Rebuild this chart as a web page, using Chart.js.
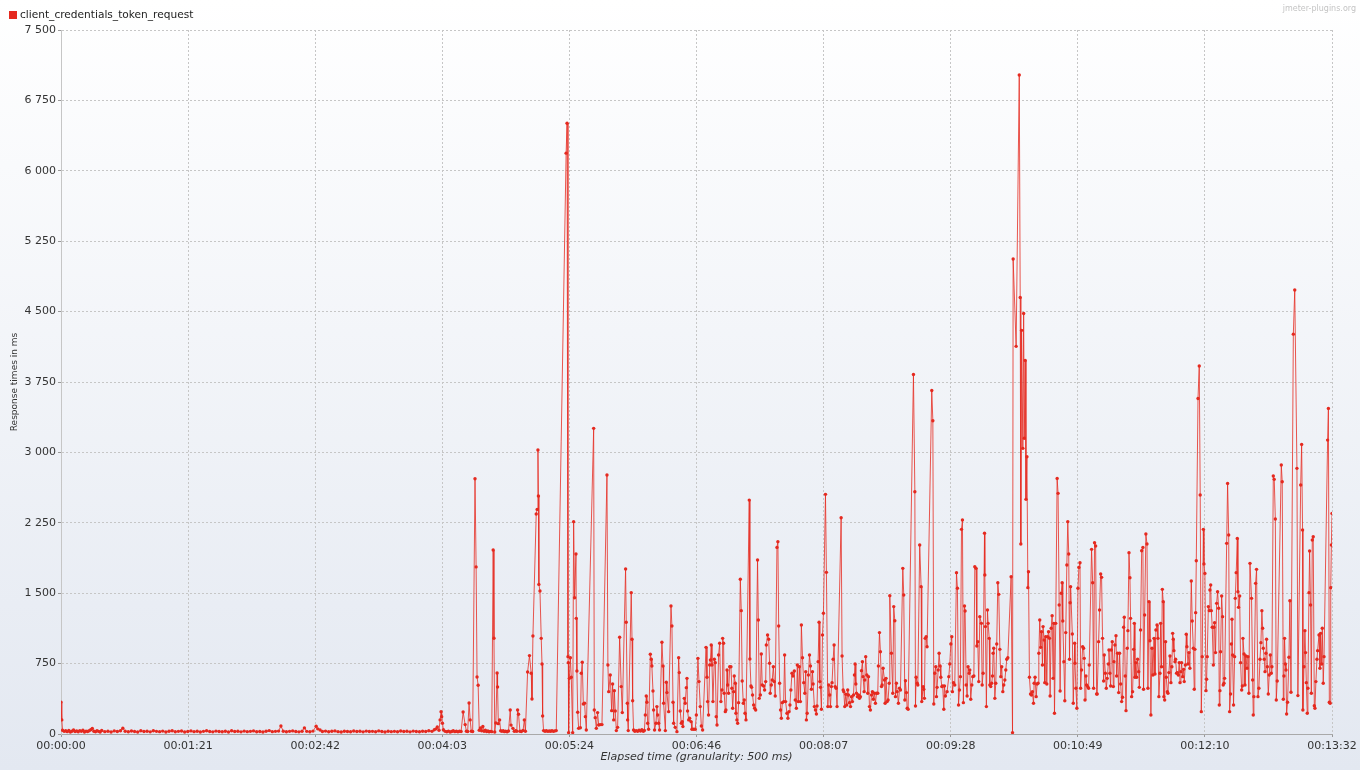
<!DOCTYPE html>
<html><head><meta charset="utf-8">
<script src="https://cdn.jsdelivr.net/npm/chart.js@4.4.1/dist/chart.umd.min.js"></script>
<style>html,body{margin:0;padding:0;background:#fff;overflow:hidden}#wrap{width:1360px;height:770px;position:relative}</style>
</head><body><div id="wrap"><canvas id="c" width="1360" height="770"></canvas></div>
<script>
const seriesName = "client_credentials_token_request";
const watermark = "jmeter-plugins.org";
const yTitle = "Response times in ms";
const xTitle = "Elapsed time (granularity: 500 ms)";
const xTickSeconds = [0, 81.2, 162.4, 243.6, 324.8, 406, 487.2, 568.4, 649.6, 730.8, 812];
const xTickLabels = ["00:00:00","00:01:21","00:02:42","00:04:03","00:05:24","00:06:46","00:08:07","00:09:28","00:10:49","00:12:10","00:13:32"];
const yMax = 7500, yStep = 750;

// [elapsed seconds, response time ms]
const warmup = [[0,340],[0.5,150],[1,40],[2,28],[3,35],[4,25],[5,38],[6,22],[7,30],[8,42],[9,26],[10,33],[11,24],[12,36],[13,28],[14,40],[15,22],[16,31],[17,27],[18,35],[19,45],[20,58],[21,30],[22,24],[23,34],[24,28],[25,22],[26,37],[28,25],[30,30],[32,21],[34,33],[36,27],[38,35],[39.5,62],[41,30],[43,24],[45,32],[47,27],[49,22],[51,35],[53,26],[55,30],[57,23],[59,34],[61,28],[63,25],[65,31],[67,22],[69,29],[71,35],[73,24],[75,28],[77,32],[79,21],[81,27],[83,33],[85,25],[87,30],[89,22],[91,28],[93,34],[95,26],[97,23],[99,31],[101,27],[103,24],[105,30],[107,22],[109,35],[111,26],[113,29],[115,23],[117,31],[119,25],[121,28],[123,33],[125,24],[127,27],[129,22],[131,30],[133,36],[135,25],[137,28],[139,31],[140.5,85],[142,30],[144,24],[146,28],[148,33],[150,26],[152,23],[154,30],[155.5,65],[157,28],[159,24],[161,31],[163,82],[164,55],[165.5,42],[167,27],[169,31],[171,24],[173,29],[175,33],[177,25],[179,22],[181,30],[183,27],[185,24],[187,32],[189,26],[191,29],[193,23],[195,31],[197,26],[199,28],[201,24],[203,33],[205,27],[207,22],[209,30],[211,25],[213,28],[215,24],[217,32],[219,26],[221,29],[223,23],[225,31],[227,27],[229,24],[231,30],[233,26],[235,35],[237,28],[238.5,45],[239.6,55],[240.4,75],[241.5,40],[242.2,150],[242.8,238],[243.2,185],[243.7,114],[244.3,45]];
const ramp = [[245.4,28],[246.5,24],[247.5,31],[248.6,22],[249.6,27],[250.6,34],[251.6,25],[252.6,29],[253.6,23],[254.6,30],[255.6,26],[256.9,234],[258.2,100],[259,30],[259.8,26],[260.7,330],[261.4,150],[262.1,30],[263,26],[264.5,2720],[265.2,1780],[265.8,607],[266.5,520],[267.2,40],[268,64],[268.7,35],[269.5,80],[270.3,28],[271.1,40],[271.9,26],[272.7,33],[273.5,24],[274.3,28],[275.2,25],[276.1,1960],[276.6,1020],[277.1,22],[277.8,117],[278.6,650],[278.9,500],[279.4,110],[280.2,150],[280.9,35],[281.7,28],[282.5,36],[283.3,25],[284.1,30],[285,24],[285.9,32],[287,255],[287.5,95],[288.7,60],[289.6,28],[290.4,35],[291.2,30],[291.7,255],[292.3,210],[293.2,30],[294.1,26],[295.2,38],[296,150],[296.7,30],[298.1,660],[299.3,835]];
const min05 = [[300.4,647],[300.9,373],[301.5,1044],[303.6,2343],[304.2,2393],[304.7,3025],[305,2535],[305.3,1594],[306,1523],[306.8,1019],[307.3,746],[307.7,192],[308.3,36],[309.2,30],[310.1,34],[311,28],[311.9,32],[312.8,30],[313.7,35],[314.6,28],[315.5,33],[316.4,36],[322.7,6188],[323.3,6507],[323.9,824],[324.1,760],[324.3,15],[324.8,593],[325.4,813],[326,604],[326.9,15],[327.5,2262],[328.1,1452],[329,1917],[329.2,1232],[329.6,671],[330.1,231],[330.7,60],[331.8,67],[332.4,647],[333,764],[333.7,320],[334.5,327],[335,185],[335.6,43],[340.3,3256],[340.7,256],[341.3,174],[342,60],[342.8,228],[343.5,96],[344.5,100],[345.6,100],[348.8,2760],[349.4,735],[349.9,451],[350.9,629],[351.8,249],[352.4,533],[353.1,150],[353.5,462],[354.1,245],[354.8,36],[355.6,71],[356.9,1030]];
const min06 = [[357.9,505],[358.6,228],[360.7,1758],[361.1,1190],[361.8,327],[362,150],[362.4,36],[364.3,1506],[364.8,1009],[365.2,355],[365.8,43],[366.6,30],[367.5,36],[368.4,28],[369.3,40],[370.2,32],[371.1,45],[372,30],[372.7,38],[373.3,203],[373.9,405],[374.3,338],[374.8,114],[375.4,50],[376.5,849],[377.1,796],[377.5,725],[378.2,458],[378.6,256],[379.2,43],[380.1,114],[380.7,292],[381.2,203],[381.8,114],[382.4,43],[383.9,977],[384.6,725],[385,327],[386.1,36],[386.7,551],[387.1,441],[388.2,238],[389.7,1364],[390.3,1151],[391,338],[391.4,114],[392.4,71],[393.5,25],[394.6,813],[395,654],[395.6,245],[396.3,114],[396.9,132],[397.3,79],[398.2,380],[398.8,327],[399.5,494],[399.9,593],[400.3,245],[401,150],[401.6,167],[402.5,132],[403.1,50],[404.2,50],[405.2,50],[405.9,203],[406.9,806],[407.6,558],[408.4,292],[409.1,86],[409.9,43],[412.1,923],[412.7,604],[413.1,345],[413.7,203],[414.4,735]];
const min07 = [[414.9,788],[415.4,948],[415.9,735],[416.5,345],[417.4,796],[418,760],[418.6,185],[419.1,96],[420.1,842],[420.8,966],[421.6,345],[422.3,469],[422.7,1019],[423.3,966],[423.7,434],[424.4,238],[424.8,256],[425.5,682],[425.9,522],[426.5,434],[427.2,717],[428,717],[428.6,487],[429.1,274],[429.7,451],[430.1,618],[430.8,540],[431.2,221],[431.8,150],[432.3,114],[432.9,334],[434,1648],[434.6,1314],[435.2,565],[435.9,327],[436.5,363],[437,221],[437.6,150],[439.7,2492],[440.1,799],[440.8,512],[441.2,497],[441.8,416],[442.5,309],[443.1,274],[443.8,256],[445,1854],[445.5,1215],[446.1,380],[446.8,416],[447.4,852],[448,522],[448.9,512],[449.5,469],[450.2,558],[450.6,948],[451.4,1055],[452.1,1009],[452.7,753],[453.1,434],[453.8,522],[454.4,575],[455.1,717],[455.7,558],[456.3,405],[457.4,1988],[458,2049],[458.5,1151],[459.1,540],[459.7,256],[460.2,167],[460.8,334],[461.7,345],[462.3,842],[462.9,345],[463.8,221],[464.4,167],[465.1,238],[465.7,309],[466.3,469],[467,647],[467.6,618],[468.5,671],[469.1,363],[469.8,274],[470.4,735],[471,345],[471.7,717]];
const min08 = [[472.4,345],[473,1161],[473.7,813],[474.5,547],[475.2,434],[475.8,664],[476.2,150],[476.7,221],[477.5,629],[478.2,842],[478.8,725],[479.4,476],[480.1,664],[480.5,533],[481.3,292],[482,256],[482.6,213],[483,299],[483.7,771],[484.3,1190],[484.8,558],[485.2,497],[485.8,263],[486.5,1055],[487.1,1286],[488.4,2553],[489,1722],[489.9,292],[490.5,522],[491.1,416],[491.6,292],[492.2,505],[492.6,547],[493.3,796],[493.9,948],[494.6,505],[495.2,487],[495.8,292],[498.4,2304],[499,831],[499.7,469],[500.1,451],[500.7,292],[501.4,423],[502,309],[502.6,469],[503.1,416],[503.7,334],[504.4,292],[505,398],[505.6,345],[506.3,416],[506.9,629],[507.3,746],[507.8,533],[508.2,434],[508.8,398],[509.5,416],[510.1,380],[510.7,398],[511.4,675],[512,771],[512.4,611],[513.1,451],[513.5,575],[514.1,824],[514.8,629],[515.4,434],[515.9,611],[516.5,292],[517.1,256],[517.8,416],[518.4,451],[519,370],[519.7,434],[520.3,327],[521,434],[521.8,434],[522.2,725],[522.9,1080],[523.5,877],[524.2,505],[524.6,522],[525.2,700],[526.1,575],[526.5,327],[527.1,593],[527.8,345],[528.4,363],[529.1,540],[529.5,1474]];
const min09 = [[530.5,860],[531.4,434],[532,1357],[532.7,1207],[533.1,398],[533.7,540],[534.2,451],[535,327],[535.7,487],[536.3,469],[537.8,1765],[538.4,1481],[539.1,363],[539.5,568],[540.1,441],[540.6,274],[541.2,263],[544.6,3830],[545.5,2581],[545.9,299],[546.3,604],[547,540],[547.4,522],[548.6,2013],[549.5,1570],[549.9,345],[550.8,505],[551.2,476],[551.6,380],[552.1,1019],[552.7,1037],[553.3,930],[556.3,3660],[557,3337],[557.6,320],[558.2,647],[558.9,717],[559.3,398],[559.7,497],[560.4,682],[561,860],[561.6,725],[562.1,604],[562.7,505],[563.3,512],[564,263],[564.4,512],[565,405],[566.1,451],[567.2,611],[567.8,746],[568.5,959],[569.1,1037],[569.5,451],[570.2,547],[571,522],[572.1,1719],[572.7,1552],[573.4,309],[574,469],[574.6,611],[575.3,2180],[575.9,2280],[576.5,334],[577.2,1364],[577.6,1310],[578.3,522],[578.9,405],[579.5,717],[580.2,647],[580.6,682],[581.2,370],[581.9,522],[582.5,611],[583.2,618],[583.8,1783],[584.6,1765],[585.1,938],[585.7,984],[586.3,558],[587,1250]];
const min10 = [[588,1179],[588.5,522],[589.1,647],[590,2138],[590.2,1694],[590.6,1144],[591.2,292],[591.9,1321],[592.3,1179],[593,1019],[593.4,522],[594,505],[594.6,540],[595.1,618],[595.5,860],[595.9,913],[596.6,380],[597.2,540],[597.8,959],[598.5,1612],[599.1,1488],[599.8,902],[600.4,611],[601,717],[601.7,451],[602.3,522],[603,575],[603.6,682],[604.2,796],[604.9,813],[607,1676],[607.9,15],[608.3,5060],[610.2,4130],[612.2,7020],[612.8,4650],[613.2,2024],[613.7,4300],[614.5,3043],[615,4480],[615.4,3150],[616,3980],[616.5,2500],[617.1,2954],[617.7,1559],[618.1,1729],[618.7,605],[619.4,426],[620,416],[620.6,451],[621.3,327],[621.7,540],[622.3,604],[623,398],[623.6,533],[624.2,540],[624.7,860],[625.3,1215],[625.9,923],[626.4,1090],[627,735],[627.4,1144],[628.1,1001],[628.5,547],[629.1,1037],[629.8,533],[630.4,1037],[630.9,1090],[631.5,1019],[631.9,405],[632.6,1126],[633.2,1261],[633.8,593],[634.3,1179],[634.7,221],[635.5,1179],[636.4,2723],[637,2564],[637.7,1374],[638.3,458],[639,1499],[639.6,1612],[640,1204],[640.7,771],[641.3,355],[641.9,1080],[642.6,1800],[643.2,2262],[643.8,1917],[644.3,796],[644.7,1399]];
const min11 = [[645,1570],[646.1,1065],[646.7,327],[647.6,966],[647.8,753],[648.4,487],[649,274],[649.7,1552],[650.3,1775],[651,1825],[651.4,487],[652,682],[652.7,930],[653.3,913],[653.7,806],[654.2,363],[654.8,618],[655.2,522],[655.9,505],[656.5,487],[656.9,735],[658.4,1967],[659.1,1612],[659.7,487],[660.3,2038],[661,2003],[661.6,426],[662,426],[662.9,984],[663.5,1321],[664.2,1704],[664.8,1669],[665.4,1019],[666.1,565],[666.5,842],[667.2,647],[667.8,487],[668.4,593],[669.1,746],[669.5,895],[670.1,647],[670.6,512],[671,895],[671.6,984],[672.3,505],[672.7,771],[673.3,948],[674,1048],[674.4,618],[675,860],[675.7,441],[676.3,860],[677,533],[677.6,345],[678.2,391],[678.9,1137],[679.3,1243],[679.9,618],[680.4,249],[681.2,913],[681.6,1101],[682.3,1932],[682.9,1665],[683.3,1232],[684,398],[684.6,451],[685.3,902],[685.7,1179],[686.1,604],[686.7,760],[687.2,604],[687.8,796],[688.5,664],[688.9,497],[689.7,1108],[690.4,1953],[691.2,1988],[691.6,476],[692.3,1268],[693.1,2130],[693.8,2024],[694.4,487],[695.1,1410],[695.7,994],[696.3,203],[697,913],[697.6,629],[698.3,1019],[698.9,639],[699.5,1108],[700.2,1161],[700.8,1019],[701.4,398],[702.1,647]];
const min12 = [[702.5,1179],[703.1,717],[703.6,1541],[704.2,1410],[704.6,398],[705.1,363],[705.7,984],[706.1,604],[706.8,451],[707.2,434],[707.8,654],[708.5,831],[709.1,547],[709.7,717],[710.2,1072],[710.6,1009],[711,888],[711.7,771],[712.1,796],[712.7,647],[713.2,654],[713.8,629],[714.4,760],[714.9,547],[715.5,664],[715.9,760],[716.6,611],[717.2,689],[717.6,558],[718.3,735],[718.9,1062],[719.3,930],[720,746],[720.6,867],[721.2,700],[722.1,1630],[722.7,1204],[723.4,913],[724,476],[724.4,902],[724.9,1293],[725.3,1846],[726.4,3575],[727.2,3920],[727.8,2546],[728.5,238],[729.1,824],[729.8,2180],[730.2,1811],[730.8,1711],[731.5,462],[731.9,583],[732.3,824],[733,1357],[733.6,1314],[734,1534],[734.5,1587],[734.9,1314],[735.5,1137],[736.2,735],[736.6,1137],[737,1186],[737.6,867],[738.3,1392],[738.9,1516],[739.6,1339],[740,309],[740.4,462],[740.8,877],[741.5,1470],[742.1,1250],[742.5,522],[743,540],[743.4,593],[744.7,2031],[745.3,2670],[746,2120],[746.6,238],[747.2,426],[747.7,959],[748.1,1222],[748.5,842],[749.1,309],[749.8,824],[750.2,1445],[750.8,1719],[751.5,2084],[751.9,1516],[752.3,1349],[753,1470],[753.6,760],[754.3,469],[754.7,512],[755.1,1019],[755.8,852],[756.4,522],[757,831],[757.7,700],[758.3,824],[758.9,434],[759.6,1818]];
const min13 = [[760.6,1445],[761.3,575],[761.7,203],[762.1,398],[763.2,1605],[763.8,1754],[764.7,398],[765.3,487],[766,796],[766.6,973],[767.2,1314],[767.7,1126],[768.1,913],[768.7,796],[769.2,664],[769.8,860],[770.2,1009],[770.7,717],[771.3,426],[771.9,629],[772.6,842],[773.2,647],[773.6,717],[774.5,2748],[775.1,2713],[775.8,2290],[776.4,363],[777,565],[779.6,2865],[780.2,2688],[780.9,370],[781.3,618],[781.7,1019],[782.2,746],[782.6,682],[783,213],[783.6,338],[784.5,817],[785.1,1420],[785.8,444],[787.3,4260],[788.2,4730],[789.6,2830],[790.2,409],[792,2652],[792.6,3085],[793.2,2173],[793.4,256],[794.1,717],[794.7,1101],[795.1,867],[795.6,547],[796.2,221],[796.6,487],[797.3,1506],[797.7,1949],[798.3,1374],[798.8,434],[799.4,2066],[800,2102],[800.7,302],[801.1,274],[801.7,558],[802.4,796],[802.8,888],[803.7,1055],[804.3,700],[804.7,1072],[805.4,746],[805.8,1126],[806.4,540],[806.9,824],[809.2,3131],[809.7,3469],[810.3,338],[810.8,327],[811.2,1559],[811.6,2013],[812,2350]];

const segments = [warmup, ramp, min05, min06, min07, min08, min09, min10, min11, min12, min13];
const points = [].concat(...segments).map(p => ({x: p[0], y: p[1]}));

const FONT = "'DejaVu Sans', sans-serif";
const RED = '#e5291f';

const bgPlugin = {
  id: 'bg',
  beforeDraw(chart) {
    const ctx = chart.ctx;
    const g = ctx.createLinearGradient(0, 0, 0, chart.height);
    g.addColorStop(0, '#ffffff');
    g.addColorStop(1, '#e3e8f1');
    ctx.save();
    ctx.fillStyle = g;
    ctx.fillRect(0, 0, chart.width, chart.height);
    ctx.restore();
  }
};
const headerPlugin = {
  id: 'header',
  afterDraw(chart) {
    const ctx = chart.ctx;
    ctx.save();
    ctx.fillStyle = RED;
    ctx.fillRect(9, 11, 8, 8);
    ctx.font = "10.6px " + FONT;
    ctx.fillStyle = '#222';
    ctx.textBaseline = 'middle';
    ctx.textAlign = 'left';
    ctx.fillText(seriesName, 20, 15.5);
    ctx.font = "8px " + FONT;
    ctx.fillStyle = '#c4c4c4';
    ctx.textAlign = 'right';
    ctx.fillText(watermark, 1356, 9);
    ctx.restore();
  }
};

new Chart(document.getElementById('c'), {
  type: 'line',
  data: { datasets: [{
    label: seriesName,
    data: points,
    borderColor: 'rgba(230,45,35,0.8)',
    borderWidth: 1,
    pointRadius: 1.7,
    pointBackgroundColor: RED,
    pointBorderWidth: 0,
    tension: 0,
    fill: false
  }]},
  options: {
    responsive: false,
    animation: false,
    devicePixelRatio: 1,
    layout: { padding: { top: 30, right: 28, left: 0, bottom: 0 } },
    plugins: { legend: { display: false }, tooltip: { enabled: false } },
    scales: {
      x: {
        type: 'linear', min: 0, max: 812,
        afterFit(s) { s.height = 36; },
        afterBuildTicks(axis) { axis.ticks = xTickSeconds.map(v => ({ value: v })); },
        ticks: {
          autoSkip: false, maxRotation: 0, padding: 3,
          font: { family: FONT, size: 11 }, color: '#333',
          callback: (v, i) => xTickLabels[i]
        },
        grid: { color: '#c6c6c6', tickLength: 3, tickColor: '#999', tickBorderDash: [] },
        border: { display: true, color: '#a9a9a9', width: 1, dash: [2, 2] },
        title: { display: true, text: xTitle, font: { family: FONT, size: 11, style: 'italic' }, color: '#333', padding: { top: 0, bottom: 6 } }
      },
      y: {
        min: 0, max: yMax,
        afterFit(s) { s.width = 61; },
        ticks: {
          stepSize: yStep, padding: 2,
          font: { family: FONT, size: 11 }, color: '#333',
          callback: v => String(v).replace(/\B(?=(\d{3})+(?!\d))/g, ' ')
        },
        grid: { color: '#c6c6c6', tickLength: 3, tickColor: '#999', tickBorderDash: [] },
        border: { display: true, color: '#c6c6c6', dash: [2, 2] },
        title: { display: true, text: yTitle, font: { family: FONT, size: 9 }, color: '#333', padding: { top: 9, bottom: 0 } }
      }
    }
  },
  plugins: [bgPlugin, headerPlugin]
});
</script>
</body></html>
